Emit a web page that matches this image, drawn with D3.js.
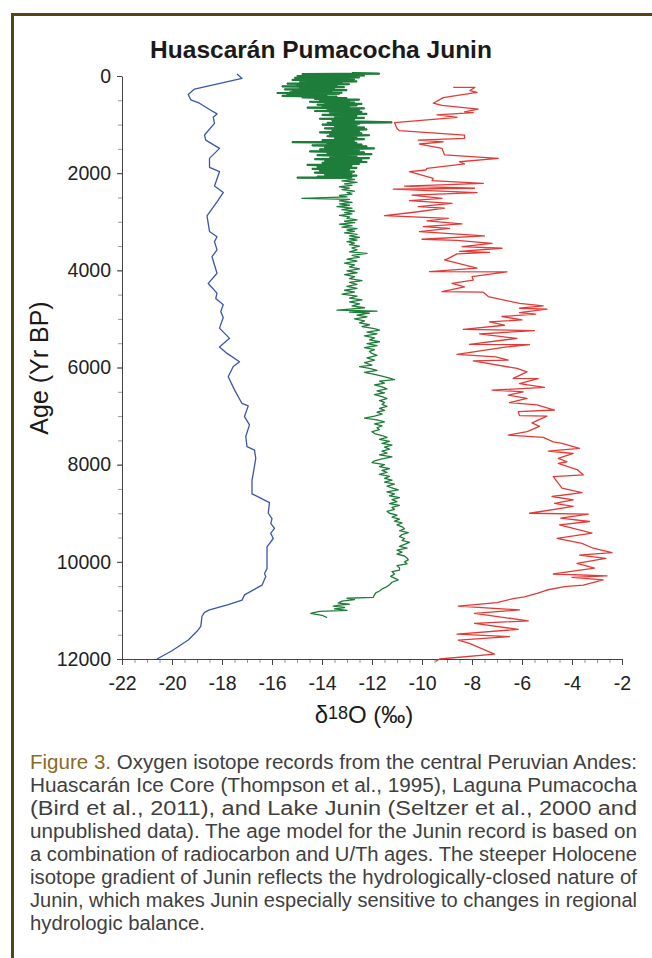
<!DOCTYPE html>
<html lang="en">
<head>
  <meta charset="UTF-8" />
  <title>Huascarán Pumacocha Junin</title>
  <script src="https://d3js.org/d3.v7.min.js"></script>
  <style>
    body { margin: 0; background: #fff; font-family: "Liberation Sans", Arial, sans-serif; }
    .axis path, .axis line { stroke: #444; }
    .axis text { font-size: 19.5px; fill: #222; font-family: "Liberation Sans", Arial, sans-serif; }
    .minor line { stroke: #999; }
    .caption { font-size: 19.5px; fill: #404040; }
  </style>
</head>
<body>
<svg width="652" height="958"></svg>

<script>
  // ages (yr BP) and δ18O (‰)
  const huascaran = [
    [-40,-17.4],[50,-17.2],[270,-19.1],[380,-19.35],[490,-19.25],[560,-18.9],[690,-18.5],[780,-18.2],
    [850,-18.35],[975,-18.3],[1215,-18.7],[1320,-18.65],[1490,-18.1],[1695,-18.5],[1880,-18.5],[1970,-18.1],
    [2265,-18.3],[2400,-17.95],[2590,-18.2],[2880,-18.6],[3200,-18.5],[3310,-18.2],[3410,-18.3],[3580,-18.2],
    [3720,-18.4],[4060,-18.2],[4270,-18.55],[4470,-18.2],[4580,-18.25],[4710,-17.95],[4850,-18.05],[4970,-17.95],
    [5190,-18.1],[5400,-17.7],[5580,-18.1],[5710,-17.8],[5880,-17.3],[5980,-17.55],[6190,-17.75],[6460,-17.5],
    [6740,-17.2],[6790,-16.95],[7010,-17.1],[7180,-16.9],[7420,-17.05],[7630,-17.0],[7700,-16.7],[7870,-16.65],
    [8180,-16.75],[8320,-16.8],[8600,-16.8],[8780,-16.1],[9000,-16.15],[9110,-16.0],[9210,-16.05],[9310,-15.9],
    [9410,-16.05],[9520,-15.95],[9690,-16.2],[10140,-16.2],[10240,-16.3],[10300,-16.25],[10480,-16.4],[10680,-17.1],
    [10790,-17.2],[10880,-17.75],[10990,-18.5],[11040,-18.7],[11120,-18.8],[11330,-18.85],[11430,-19.0],[11610,-19.35],
    [11830,-20.0],[12000,-20.6]
  ];

  const pumacocha = [
    [-60,-12.8],[-50,-11.7],[-40,-14.8],[-30,-12.4],[-20,-14.2],[-10,-12.3],[0,-15.0],[10,-12.6],[20,-14.4],[30,-12.5],
    [40,-15.1],[50,-12.9],[60,-14.2],[70,-12.7],[80,-15.2],[90,-13.0],[100,-14.6],[110,-12.6],[125,-14.9],[140,-13.2],
    [155,-15.4],[170,-12.9],[185,-15.0],[200,-13.4],[215,-15.6],[230,-13.1],[245,-14.9],[260,-13.5],[275,-15.5],[290,-13.0],
    [305,-15.2],[320,-13.6],[335,-15.3],[345,-13.2],[350,-15.8],[365,-13.3],[380,-15.4],[395,-13.8],[410,-15.6],[425,-13.4],
    [440,-14.8],[455,-13.0],[470,-14.3],[485,-12.5],[500,-14.1],[515,-12.9],[530,-14.5],[545,-12.7],[560,-13.9],[575,-12.4],
    [590,-14.2],[605,-12.6],[620,-14.0],[635,-12.9],[650,-14.6],[665,-12.3],[680,-13.8],[700,-12.5],[720,-14.3],[740,-12.4],
    [760,-13.7],[780,-12.2],[800,-14.0],[820,-12.6],[840,-13.5],[860,-12.3],[880,-14.1],[900,-12.7],[920,-13.6],[940,-12.4],
    [955,-11.2],[965,-13.8],[980,-12.5],[1000,-14.0],[1020,-12.6],[1040,-13.5],[1060,-12.3],[1080,-13.9],[1100,-12.2],[1120,-13.6],
    [1140,-12.5],[1160,-14.1],[1180,-12.4],[1200,-13.7],[1220,-12.1],[1240,-13.8],[1260,-12.6],[1280,-13.5],[1300,-12.3],[1320,-14.0],
    [1340,-12.7],[1360,-15.2],[1375,-12.6],[1390,-13.8],[1410,-12.4],[1430,-14.4],[1450,-12.2],[1470,-13.9],[1490,-11.9],[1510,-14.1],
    [1530,-12.5],[1550,-14.5],[1570,-12.3],[1590,-13.8],[1610,-12.0],[1630,-14.2],[1650,-12.6],[1670,-13.7],[1690,-12.1],[1710,-14.3],
    [1730,-12.4],[1750,-13.9],[1770,-12.2],[1790,-14.0],[1810,-12.5],[1830,-14.6],[1850,-12.8],[1870,-14.2],[1890,-12.6],[1910,-14.4],
    [1930,-12.9],[1950,-14.1],[1970,-12.7],[1990,-14.3],[2010,-12.8],[2030,-13.9],[2050,-12.6],[2070,-14.2],[2080,-12.8],[2090,-15.0],
    [2100,-13.1],[2130,-12.7],[2160,-13.2],[2190,-12.6],[2220,-13.1],[2250,-12.8],[2280,-13.3],[2310,-12.9],[2340,-13.2],[2370,-12.7],
    [2400,-13.0],[2430,-12.8],[2460,-13.3],[2490,-13.0],[2520,-14.8],[2540,-12.9],[2570,-13.3],[2600,-12.8],[2630,-13.3],[2660,-12.9],
    [2690,-13.4],[2720,-12.8],[2750,-13.2],[2780,-12.7],[2810,-13.1],[2840,-12.8],[2870,-13.3],[2900,-12.9],[2930,-13.0],[2960,-12.6],
    [2990,-13.1],[3020,-12.7],[3050,-13.3],[3080,-12.8],[3110,-13.2],[3140,-12.6],[3170,-13.0],[3200,-12.7],[3230,-13.1],[3260,-12.6],
    [3290,-12.9],[3320,-12.5],[3350,-12.9],[3380,-12.6],[3410,-13.0],[3440,-12.7],[3470,-12.9],[3500,-12.5],[3540,-12.8],[3580,-12.6],
    [3620,-12.9],[3650,-12.2],[3690,-12.8],[3730,-12.5],[3770,-13.0],[3810,-12.6],[3850,-13.1],[3890,-12.7],[3930,-12.9],[3970,-12.5],
    [4010,-13.0],[4050,-12.6],[4090,-13.1],[4130,-12.7],[4170,-12.9],[4210,-12.4],[4250,-12.9],[4290,-12.6],[4330,-13.0],[4370,-12.6],
    [4410,-13.1],[4450,-12.7],[4490,-13.2],[4530,-12.6],[4570,-12.9],[4610,-12.4],[4650,-12.9],[4690,-12.5],[4730,-12.8],[4770,-12.3],
    [4800,-12.9],[4820,-13.4],[4840,-11.8],[4860,-12.9],[4880,-12.1],[4920,-12.6],[4960,-12.2],[5000,-12.7],[5040,-12.3],[5080,-12.5],
    [5120,-12.1],[5160,-12.4],[5200,-11.9],[5230,-11.7],[5270,-12.2],[5310,-11.8],[5350,-12.3],[5390,-11.9],[5430,-12.1],[5470,-11.7],
    [5510,-12.2],[5550,-11.8],[5590,-12.3],[5630,-11.9],[5670,-12.1],[5710,-12.0],[5750,-11.8],[5800,-12.2],[5850,-11.9],[5900,-12.3],
    [5950,-12.0],[5980,-12.5],[6020,-12.1],[6060,-11.8],[6100,-12.3],[6140,-11.9],[6180,-11.6],[6220,-11.3],[6250,-11.1],[6280,-11.7],
    [6320,-11.5],[6360,-11.9],[6400,-11.6],[6440,-11.4],[6480,-11.8],[6520,-11.5],[6560,-11.9],[6600,-11.6],[6640,-11.4],[6680,-11.7],
    [6720,-11.5],[6760,-11.6],[6800,-11.4],[6840,-11.7],[6880,-11.5],[6920,-11.8],[6960,-11.6],[7000,-11.9],[7040,-12.3],[7080,-11.8],
    [7120,-11.5],[7160,-11.9],[7200,-11.6],[7240,-11.8],[7280,-11.7],[7320,-12.0],[7360,-11.9],[7400,-11.6],[7440,-11.4],[7480,-11.7],
    [7520,-11.3],[7560,-11.6],[7600,-11.2],[7640,-11.5],[7680,-11.3],[7720,-11.6],[7760,-11.4],[7800,-11.7],[7840,-11.2],[7880,-11.6],
    [7920,-11.9],[7960,-12.0],[8000,-11.5],[8040,-11.7],[8080,-11.3],[8120,-11.6],[8160,-11.4],[8200,-11.7],[8240,-11.3],[8280,-11.5],
    [8320,-11.2],[8360,-11.5],[8400,-11.1],[8440,-11.4],[8480,-11.2],[8520,-10.95],[8560,-11.4],[8600,-11.1],[8640,-11.3],[8680,-10.9],
    [8720,-11.2],[8760,-11.0],[8800,-11.3],[8840,-10.9],[8880,-11.2],[8920,-11.1],[8960,-11.4],[9000,-11.3],[9040,-11.0],[9080,-11.2],
    [9120,-10.9],[9160,-11.1],[9200,-10.8],[9240,-11.0],[9280,-10.8],[9320,-10.7],[9360,-10.9],[9400,-10.55],[9440,-10.8],[9480,-10.9],
    [9520,-10.7],[9560,-10.8],[9600,-10.5],[9640,-10.7],[9680,-10.9],[9720,-10.6],[9760,-11.0],[9800,-10.8],[9840,-11.0],[9880,-10.7],
    [9920,-10.6],[9960,-10.55],[10000,-10.7],[10040,-10.6],[10080,-11.0],[10120,-10.9],[10170,-10.9],[10200,-11.2],[10250,-11.1],[10300,-11.25],
    [10370,-10.95],[10420,-11.2],[10470,-11.3],[10510,-11.4],[10560,-11.6],[10600,-11.7],[10640,-11.85],[10680,-11.9],[10730,-11.95],[10750,-13.0],
    [10780,-12.7],[10810,-13.2],[10850,-13.35],[10870,-12.9],[10890,-13.3],[10910,-13.55],[10940,-13.1],[10970,-13.5],[11000,-13.0],[11020,-14.1],
    [11060,-14.45],[11100,-14.0],[11150,-13.8]
  ];

  const junin = [
    [233,-8.75],[233,-7.88],[300,-8.08],[335,-7.8],[445,-9.15],[560,-9.55],[605,-9.2],[680,-7.75],[740,-8.3],[755,-7.95],
    [800,-9.4],[850,-8.6],[960,-11.1],[1080,-11.0],[1125,-10.9],[1215,-8.3],[1285,-8.3],[1320,-10.15],[1355,-9.15],[1400,-10.1],
    [1490,-9.2],[1625,-9.1],[1695,-6.95],[1765,-8.5],[1810,-8.3],[1900,-9.8],[1935,-9.85],[1970,-10.5],[2105,-9.55],[2155,-9.6],
    [2210,-7.55],[2265,-10.7],[2310,-7.9],[2330,-11.15],[2400,-7.8],[2450,-10.4],[2520,-9.2],[2565,-10.5],[2620,-8.8],[2690,-10.15],
    [2720,-9.1],[2810,-10.4],[2875,-11.5],[2930,-8.95],[2980,-9.8],[3045,-8.4],[3100,-9.95],[3135,-8.9],[3205,-10.1],[3290,-7.5],
    [3360,-10.0],[3385,-8.6],[3445,-7.2],[3510,-8.4],[3545,-6.8],[3610,-8.5],[3630,-7.3],[3660,-8.6],[3770,-9.0],[3785,-9.1],
    [3955,-7.8],[4025,-9.7],[4030,-6.6],[4130,-8.0],[4200,-7.95],[4270,-8.8],[4340,-8.3],[4440,-9.2],[4450,-7.55],[4540,-7.35],
    [4680,-6.1],[4730,-5.15],[4780,-6.1],[4800,-5.0],[4870,-6.1],[4900,-5.45],[4950,-6.8],[5020,-6.0],[5060,-7.3],[5130,-6.7],
    [5215,-8.35],[5240,-5.5],[5310,-7.7],[5400,-6.2],[5525,-8.1],[5530,-5.7],[5575,-6.6],[5730,-8.6],[5780,-7.05],[5850,-6.55],
    [5865,-7.95],[6020,-6.2],[6090,-5.8],[6225,-6.35],[6230,-5.35],[6330,-6.1],[6410,-5.1],[6465,-7.2],[6500,-5.95],[6570,-6.55],
    [6635,-5.8],[6725,-6.5],[6770,-5.4],[6875,-4.7],[6910,-6.15],[6990,-6.1],[7000,-5.0],[7140,-5.6],[7210,-5.3],[7320,-5.8],
    [7390,-6.55],[7440,-5.15],[7530,-4.75],[7560,-4.4],[7665,-3.7],[7720,-4.95],[7770,-3.95],[7870,-4.55],[7940,-4.2],[7975,-4.55],
    [8100,-3.8],[8210,-3.55],[8245,-4.75],[8485,-4.4],[8575,-3.6],[8655,-4.8],[8725,-3.95],[8795,-4.7],[8860,-3.95],[9000,-5.7],
    [9020,-3.35],[9100,-4.45],[9170,-3.3],[9240,-4.5],[9410,-3.2],[9515,-4.6],[9620,-3.6],[9720,-3.15],[9810,-2.4],[9860,-3.7],
    [9930,-2.65],[10030,-3.8],[10130,-3.1],[10250,-4.75],[10290,-2.6],[10320,-4.0],[10370,-2.75],[10480,-3.55],[10510,-4.3],[10580,-5.0],
    [10650,-5.4],[10720,-5.9],[10750,-6.3],[10840,-7.0],[10910,-8.55],[10990,-6.1],[11060,-7.9],[11215,-5.75],[11265,-7.9],[11390,-6.15],
    [11490,-8.6],[11540,-6.5],[11610,-8.55],[11680,-8.1],[11900,-7.1],[12000,-9.3],[12050,-9.45]
  ];

  const xTicks = [-22, -20, -18, -16, -14, -12, -10, -8, -6, -4, -2];
  const yTicks = [0, 2000, 4000, 6000, 8000, 10000, 12000];

  const captionLines = [
    "Oxygen isotope records from the central Peruvian Andes:",
    "Huascarán Ice Core (Thompson et al., 1995), Laguna Pumacocha",
    "(Bird et al., 2011), and Lake Junin (Seltzer et al., 2000 and",
    "unpublished data). The age model for the Junin record is based on",
    "a combination of radiocarbon and U/Th ages. The steeper Holocene",
    "isotope gradient of Junin reflects the hydrologically-closed nature of",
    "Junin, which makes Junin especially sensitive to changes in regional",
    "hydrologic balance."
  ];

  const svg = d3.select("svg");

  // frame
  svg.append("path")
    .attr("d", "M12.5,958 L12.5,14.5 L652,14.5")
    .attr("fill", "none")
    .attr("stroke", "#574517")
    .attr("stroke-width", 3);

  const x = d3.scaleLinear().domain([-22, -2]).range([122, 622]);
  const y = d3.scaleLinear().domain([0, 12000]).range([76, 659]);

  // title
  svg.append("text")
    .attr("x", 321).attr("y", 58)
    .attr("text-anchor", "middle")
    .attr("font-weight", "bold")
    .attr("font-size", 24.5)
    .attr("fill", "#1a1a1a")
    .text("Huascarán Pumacocha Junin");

  // minor ticks
  svg.append("g").attr("class", "axis minor")
    .attr("transform", "translate(0,659)")
    .call(d3.axisBottom(x).tickValues(d3.range(-22, -1.9, 0.5)).tickSize(4).tickFormat(""))
    .select(".domain").remove();
  svg.append("g").attr("class", "axis minor")
    .attr("transform", "translate(122,0)")
    .call(d3.axisLeft(y).tickValues(d3.range(0, 12001, 500)).tickSize(4).tickFormat(""))
    .select(".domain").remove();

  svg.append("g").attr("class", "axis")
    .attr("transform", "translate(0,659)")
    .call(d3.axisBottom(x).tickValues(xTicks).tickFormat(d => String(d))
      .tickSizeInner(6).tickSizeOuter(0).tickPadding(11));

  svg.append("g").attr("class", "axis")
    .attr("transform", "translate(122,0)")
    .call(d3.axisLeft(y).tickValues(yTicks).tickFormat(d => String(d))
      .tickSizeInner(5).tickSizeOuter(0).tickPadding(6));

  // series
  const line = d3.line().x(d => x(d[1])).y(d => y(d[0]));
  [[huascaran, "#3a56a8", 1.3], [pumacocha, "#1e7d3a", 1.3], [junin, "#e23a36", 1.3]].forEach(([data, color, w]) => {
    svg.append("path")
      .datum(data)
      .attr("fill", "none")
      .attr("stroke", color)
      .attr("stroke-width", w)
      .attr("stroke-linejoin", "round")
      .attr("d", line);
  });

  // the high-resolution upper Pumacocha section reads as a solid band
  svg.append("path")
    .datum(pumacocha.filter(d => d[0] <= 2100))
    .attr("fill", "none")
    .attr("stroke", "#1e7d3a")
    .attr("stroke-width", 2.2)
    .attr("d", line);

  // axis labels
  svg.append("text")
    .attr("transform", "translate(48,368) rotate(-90)")
    .attr("text-anchor", "middle")
    .attr("font-size", 25)
    .attr("fill", "#1a1a1a")
    .text("Age (Yr BP)");

  const xl = svg.append("text")
    .attr("x", 364).attr("y", 723)
    .attr("text-anchor", "middle")
    .attr("font-size", 24)
    .attr("fill", "#1a1a1a");
  xl.append("tspan").text("δ");
  xl.append("tspan").attr("font-size", 18).attr("dy", -4).text("18");
  xl.append("tspan").attr("dy", 4).text("O (‰)");

  // caption
  const cap = svg.append("g").attr("class", "caption");
  captionLines.forEach((t, i) => {
    const last = i === captionLines.length - 1;
    const txt = cap.append("text")
      .attr("x", 30)
      .attr("y", 769 + i * 23)
      .attr("textLength", last ? 175 : 607)
      .attr("lengthAdjust", "spacingAndGlyphs");
    if (i === 0) {
      txt.append("tspan").attr("fill", "#8a6a24").text("Figure 3. ");
    }
    txt.append("tspan").text(t);
  });
</script>
</body>
</html>
